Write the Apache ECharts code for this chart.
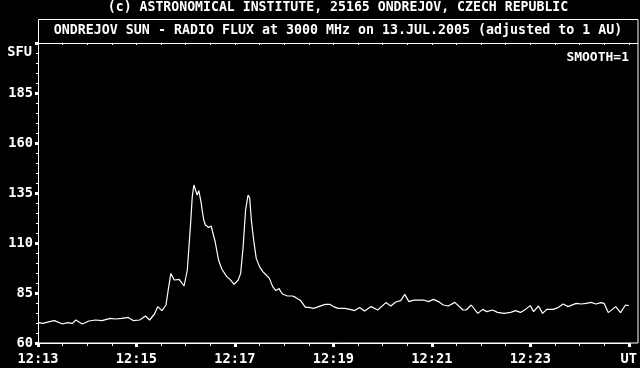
<!DOCTYPE html>
<html>
<head>
<meta charset="utf-8">
<script src="https://cdn.jsdelivr.net/npm/echarts@6/dist/echarts.min.js"></script>
<style>
html,body{margin:0;padding:0;background:#000;}
#chart{width:640px;height:368px;}
</style>
</head>
<body>
<div id="chart"></div>
<script>
// seconds after 12:13:00 UT
var times = [0,6,14,20,30,36,42,46,54,62,70,78,88,94,102,110,116,124,131,136,142,146,151,156,159,162,166,172,178,182,186,188,190,194,196,199,200,202,204,208,211,216,220,224,230,234,239,244,247,250,253,256,258,260,263,266,270,274,278,282,286,290,294,295,298,304,310,314,320,326,330,336,342,350,356,360,366,374,380,386,392,398,406,414,424,430,436,442,447,452,458,470,476,482,488,494,500,508,518,522,528,536,542,547,554,560,568,576,582,588,594,600,604,610,615,620,628,634,640,646,656,662,668,674,680,686,690,695,700,704,710,716,720];
// radio flux, SFU
var flux = [70.2,69.8,70.7,71.2,69.5,70.2,69.8,71.5,69.5,71,71.5,71.2,72.3,72,72.3,72.8,71.2,71.5,73.5,71.5,74.5,78.2,76.2,79,87.3,94.8,91.5,91.8,88.5,96.5,119.8,133.2,139,134,136.2,129.8,126.5,121.5,119,117.8,118.5,110.5,101.5,97,93.2,91.8,89.3,91.5,94.8,108,126.5,134,132.5,121.5,111,102.3,98.2,95.7,94,92.3,88.2,86.2,87.3,86.2,84.5,83.5,83.5,82.8,81.2,77.8,77.8,77.3,78.2,79.3,79.3,78.2,77.3,77.3,76.8,76.2,77.7,76,78.2,76.5,80.2,78.5,80.5,81.2,84.3,80.7,81.4,81.5,80.7,81.8,80.7,79,78.5,80.3,76.5,76.5,79,74.8,76.8,75.7,76.5,75.3,74.8,75.3,76.2,75.3,76.8,78.7,75.7,78.5,74.8,76.8,76.8,77.7,79.5,78.2,79.8,79.5,79.8,80.3,79.5,80.2,79.8,75.2,76.8,78.2,75.2,79,78.7];
var xLabels = ['12:13','12:15','12:17','12:19','12:21','12:23','UT'];
var yLabels = ['60','85','110','135','160','185',''];
var titleTop = '(c) ASTRONOMICAL INSTITUTE, 25165 ONDREJOV, CZECH REPUBLIC';
var titleMain = 'ONDREJOV SUN - RADIO FLUX at 3000 MHz on 13.JUL.2005 (adjusted to 1 AU)';
var yUnit = 'SFU';
var smoothNote = 'SMOOTH=1';

var data = times.map(function(t,i){return [t, flux[i]];});
var FONT = '"DejaVu Sans Mono", "Liberation Mono", monospace';

var chart = echarts.init(document.getElementById('chart'), null, {renderer:'canvas'});
chart.setOption({
  backgroundColor:'#000',
  animation:false,
  grid:{left:38, right:2, top:43, bottom:25},
  xAxis:[{
    type:'value', min:0, max:720, interval:120,
    axisLine:{show:true, lineStyle:{color:'#fff', width:1}},
    axisTick:{show:true, length:4, inside:false, lineStyle:{color:'#fff', width:3}},
    minorTick:{show:true, splitNumber:4, length:3, lineStyle:{color:'#fff', width:1}},
    splitLine:{show:false},
    axisLabel:{color:'#fff', fontFamily:FONT, fontWeight:'bold', fontSize:13.7, margin:9,
      formatter:function(v,i){ return xLabels[Math.round(v/120)]; }}
  },{
    type:'value', min:0, max:720, interval:30, position:'top',
    axisLine:{show:false},
    axisTick:{show:true, inside:true, length:2, lineStyle:{color:'#fff', width:1}},
    axisLabel:{show:false}, splitLine:{show:false}
  }],
  yAxis:{
    type:'value', min:60, max:210, interval:25,
    axisLine:{show:true, lineStyle:{color:'#fff', width:1}},
    axisTick:{show:true, length:3, lineStyle:{color:'#fff', width:3}},
    minorTick:{show:true, splitNumber:5, length:2, lineStyle:{color:'#fff', width:1}},
    splitLine:{show:false},
    axisLabel:{color:'#fff', fontFamily:FONT, fontWeight:'bold', fontSize:13.7, margin:5,
      formatter:function(v){ return yLabels[Math.round((v-60)/25)]; }}
  },
  series:[{
    type:'line', data:data, showSymbol:false, symbol:'none',
    lineStyle:{color:'#fff', width:1.2}, xAxisIndex:0
  }],
  graphic:[
    {type:'rect', shape:{x:38.5, y:19.5, width:599.5, height:323.5}, style:{fill:null, stroke:'#fff', lineWidth:1}},
    {type:'line', shape:{x1:38, y1:43.5, x2:638, y2:43.5}, style:{stroke:'#fff', lineWidth:1}},
    {type:'text', x:338, y:8, style:{text:titleTop, fill:'#fff', font:'bold 13.2px '+FONT, textAlign:'center', textVerticalAlign:'middle'}},
    {type:'text', x:338, y:31, style:{text:titleMain, fill:'#fff', font:'bold 13.3px '+FONT, textAlign:'center', textVerticalAlign:'middle'}},
    {type:'text', x:32, y:52, style:{text:yUnit, fill:'#fff', font:'bold 13.7px '+FONT, textAlign:'right', textVerticalAlign:'middle'}},
    {type:'text', x:629, y:58, style:{text:smoothNote, fill:'#fff', font:'bold 13px '+FONT, textAlign:'right', textVerticalAlign:'middle'}}
  ]
});
</script>
</body>
</html>
